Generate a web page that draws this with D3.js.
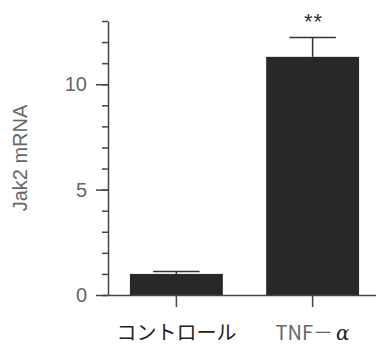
<!DOCTYPE html>
<html>
<head>
<meta charset="utf-8">
<script src="https://cdn.jsdelivr.net/npm/d3@7"></script>
<style>
  body { margin: 0; background: #fff; }
</style>
</head>
<body>
<div id="chart"></div>
<script>
// data
let GROUPS = ["コントロール", "TNF－α"]
let MEANS = [1.0, 11.3]
let ERRORS = [0.12, 0.92]
let MARKS = ["", "**"]
let MAJOR_TICKS = [0, 5, 10]

let width = 376, height = 346
let svg = d3.select("#chart").append("svg")
    .attr("width", width)
    .attr("height", height)

let axisColor = "#444"
let textColor = "#666"
let latin = "'Liberation Sans', Arial, sans-serif"

// scales
let y = d3.scaleLinear().domain([0, 13]).range([295, 21])
let x = d3.scaleBand().domain(GROUPS).range([108, 381])
    .paddingInner(0.318).paddingOuter(0.161)

// bars
svg.selectAll("rect.bar")
    .data(GROUPS)
    .enter()
    .append("rect")
    .attr("class", "bar")
    .attr("x", function (d) { return x(d) })
    .attr("width", x.bandwidth())
    .attr("y", function (d, i) { return y(MEANS[i]) })
    .attr("height", function (d, i) { return y(0) - y(MEANS[i]) })
    .attr("fill", "#282828")

// error bars (upper only)
let capW = x.bandwidth() * 0.5
let eb = svg.selectAll("g.err")
    .data(GROUPS)
    .enter()
    .append("g")
    .attr("class", "err")
    .attr("stroke", "#333")
    .attr("stroke-width", 1.5)
eb.append("line")
    .attr("x1", function (d) { return x(d) + x.bandwidth() / 2 })
    .attr("x2", function (d) { return x(d) + x.bandwidth() / 2 })
    .attr("y1", function (d, i) { return y(MEANS[i]) })
    .attr("y2", function (d, i) { return y(MEANS[i] + ERRORS[i]) })
eb.append("line")
    .attr("x1", function (d) { return x(d) + x.bandwidth() / 2 - capW / 2 })
    .attr("x2", function (d) { return x(d) + x.bandwidth() / 2 + capW / 2 })
    .attr("y1", function (d, i) { return y(MEANS[i] + ERRORS[i]) })
    .attr("y2", function (d, i) { return y(MEANS[i] + ERRORS[i]) })

// significance marks
svg.selectAll("text.sig")
    .data(GROUPS)
    .enter()
    .append("text")
    .attr("class", "sig")
    .attr("x", function (d) { return x(d) + x.bandwidth() / 2 + 1 })
    .attr("y", function (d, i) { return y(MEANS[i] + ERRORS[i]) - 8 })
    .attr("text-anchor", "middle")
    .style("font-family", latin)
    .style("font-size", "22px")
    .style("letter-spacing", "1px")
    .style("fill", "#333")
    .text(function (d, i) { return MARKS[i] })

// y axis: minor ticks every unit, major at 0/5/10
let yMinor = svg.append("g")
    .attr("transform", "translate(108,0)")
    .call(d3.axisLeft(y).tickValues(d3.range(0, 14)).tickSize(6).tickFormat("").tickSizeOuter(0))
let yMajor = svg.append("g")
    .attr("transform", "translate(108,0)")
    .call(d3.axisLeft(y).tickValues(MAJOR_TICKS).tickSize(12).tickPadding(9).tickSizeOuter(0))
yMajor.select(".domain").remove()
yMajor.selectAll("text")
    .style("font-family", latin)
    .style("font-size", "20px")
    .style("fill", textColor)

// x axis
let xAxis = svg.append("g")
    .attr("transform", "translate(0,295)")
    .call(d3.axisBottom(x).tickSize(12).tickPadding(19).tickSizeOuter(0))
xAxis.selectAll("text")
    .style("font-size", "20px")
    .style("fill", "#222")
    .style("font-family", "'Noto Sans CJK JP', sans-serif")
    .each(function (d) {
        let t = d3.select(this)
        if (d.indexOf("α") < 0) return
        t.text(null)
        t.append("tspan").text(d.replace("α", "")).style("fill", textColor)
        t.append("tspan").text("α").style("font-style", "italic")
            .style("font-family", "'DejaVu Serif', serif").attr("dx", 3)
    })

svg.selectAll(".domain, .tick line")
    .attr("stroke", axisColor)
    .attr("stroke-width", 1.5)

// y label
svg.append("text")
    .attr("transform", "translate(27,158) rotate(-90)")
    .attr("text-anchor", "middle")
    .style("font-family", latin)
    .style("font-size", "20px")
    .style("fill", textColor)
    .text("Jak2 mRNA")
</script>
</body>
</html>
